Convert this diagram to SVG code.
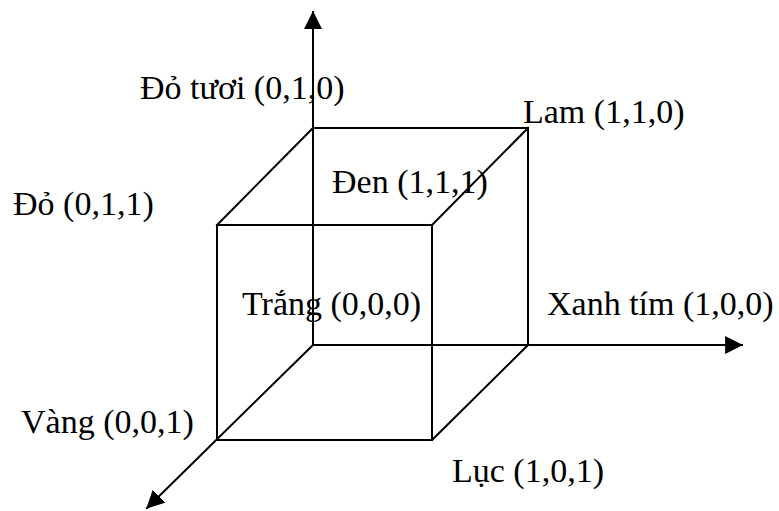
<svg xmlns="http://www.w3.org/2000/svg" width="779" height="511" viewBox="0 0 779 511">
<style>
.l{stroke:#000;stroke-width:2;fill:none;stroke-linecap:square}
.t{font-family:"Liberation Serif","Times New Roman",serif;font-size:34px;fill:#000}
</style>
<defs>
<marker id="ah" markerUnits="userSpaceOnUse" markerWidth="18" markerHeight="18" refX="15" refY="8" orient="auto" viewBox="0 0 16 16">
<path d="M0,0 L16,8 L0,16 Z" fill="#000"/>
</marker>
</defs>
<rect width="779" height="511" fill="#fff"/>
<g id="connectors">
<line class="l" x1="313" y1="345" x2="313" y2="12" marker-end="url(#ah)"/>
<line class="l" x1="313" y1="345" x2="742" y2="345" marker-end="url(#ah)"/>
<line class="l" x1="313" y1="345" x2="147" y2="508" marker-end="url(#ah)"/>
</g>
<g id="cube">
<polyline class="l" points="313,128 528,128 528,345"/>
<rect class="l" x="217" y="225" width="215" height="215"/>
<line class="l" x1="313" y1="128" x2="217" y2="225"/>
<line class="l" x1="528" y1="128" x2="432" y2="225"/>
<line class="l" x1="528" y1="345" x2="432" y2="440"/>
</g>
<g id="n-dotuoi"><text class="t" x="140" y="99">Đỏ tươi (0,1,0)</text></g>
<g id="n-lam"><text class="t" x="523" y="123">Lam (1,1,0)</text></g>
<g id="n-do"><text class="t" x="13" y="215">Đỏ (0,1,1)</text></g>
<g id="n-den"><text class="t" x="332" y="193">Đen (1,1,1)</text></g>
<g id="n-trang"><text class="t" x="242" y="315">Trắng (0,0,0)</text></g>
<g id="n-xanhtim"><text class="t" x="547" y="315">Xanh tím (1,0,0)</text></g>
<g id="n-vang"><text class="t" x="21" y="433">Vàng (0,0,1)</text></g>
<g id="n-luc"><text class="t" x="452" y="482">Lục (1,0,1)</text></g>
</svg>
